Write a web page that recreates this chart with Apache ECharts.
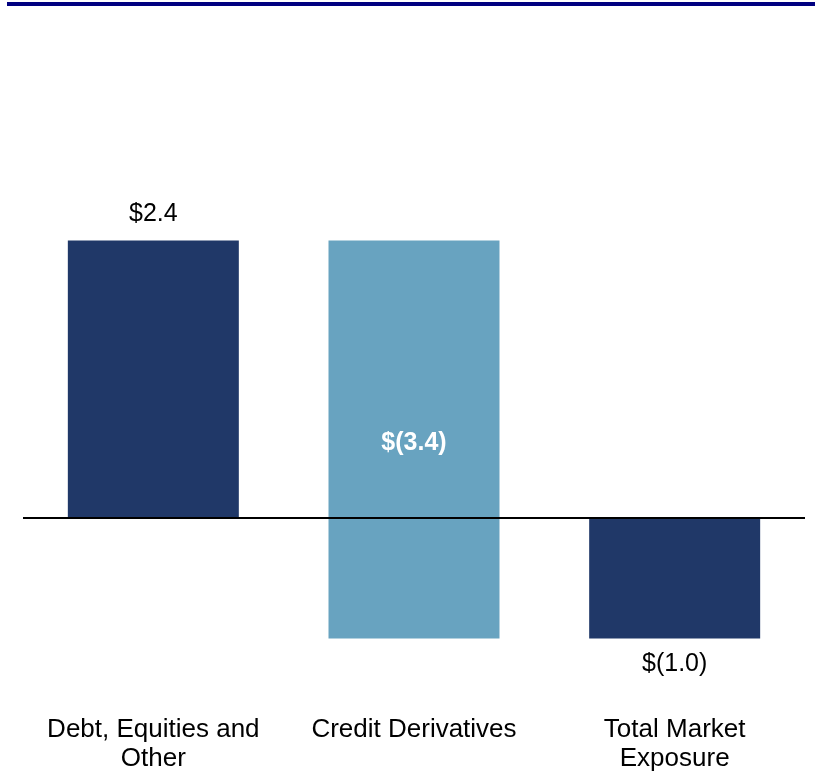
<!DOCTYPE html>
<html>
<head>
<meta charset="utf-8">
<title>Market Exposure</title>
<script src="https://cdn.jsdelivr.net/npm/echarts@6/dist/echarts.min.js"></script>
<style>
  html, body { margin: 0; padding: 0; background: #fff; }
  #chart { width: 815px; height: 773px; }
</style>
</head>
<body>
<div id="chart"></div>
<script>
// 瀑布图数据
var categories = ["Debt, Equities and\nOther", "Credit Derivatives", "Total Market\nExposure"];
var values = [2.38, -3.42, -1.04];
var isTotal = [false, false, true];

// 样式
var barColors = ["#203868", "#68A3C0", "#203868"];
var labelPlace = ["top", "inside", "bottom"];
var fontFamily = "'Liberation Sans', Arial, sans-serif";

function fmt(v) {
  var s = Math.abs(v).toFixed(1);
  return v < 0 ? "$(" + s + ")" : "$" + s;
}

// 计算每根柱子的起止
var running = 0;
var rows = values.map(function (v, i) {
  var start, end;
  if (isTotal[i]) {
    start = 0;
    end = v;
  } else {
    start = running;
    end = running + v;
  }
  running = end;
  return [i, start, end, v];
});

var chart = echarts.init(document.getElementById("chart"));

var option = {
  animation: false,
  grid: { top: 52, bottom: 80.25, left: 23, right: 10 },
  graphic: [
    { type: "rect", left: 7, top: 2, shape: { width: 808, height: 4 }, style: { fill: "#000080" } }
  ],
  xAxis: {
    type: "category",
    data: categories,
    position: "bottom",
    axisLine: { show: false },
    axisTick: { show: false },
    axisLabel: {
      color: "#000",
      fontSize: 26,
      lineHeight: 29,
      fontFamily: fontFamily,
      margin: 23,
      interval: 0
    }
  },
  yAxis: {
    type: "value",
    min: -1.5,
    max: 4,
    show: false,
    splitLine: { show: false }
  },
  series: [
    {
      type: "custom",
      data: rows,
      z: 1,
      // 零线
      markLine: {
        silent: true,
        symbol: "none",
        label: { show: false },
        lineStyle: { color: "#000", width: 2, type: "solid" },
        data: [{ yAxis: 0 }]
      },
      renderItem: function (params, api) {
        var i = params.dataIndex;
        var p1 = api.coord([api.value(0), api.value(1)]);
        var p2 = api.coord([api.value(0), api.value(2)]);
        var w = api.size([1, 0])[0] * 0.656;
        var top = Math.min(p1[1], p2[1]);
        var bottom = Math.max(p1[1], p2[1]);
        var cx = p1[0];
        var place = labelPlace[i];
        var ty, fill = "#000", weight = "normal";
        if (place === "top") {
          ty = top - 26;
        } else if (place === "bottom") {
          ty = bottom + 26;
        } else {
          ty = (top + bottom) / 2 + 4;
          fill = "#fff";
          weight = "bold";
        }
        return {
          type: "group",
          children: [
            {
              type: "rect",
              shape: { x: cx - w / 2, y: top, width: w, height: bottom - top },
              style: { fill: barColors[i] }
            },
            {
              type: "text",
              x: cx,
              y: ty,
              style: {
                text: fmt(api.value(3)),
                fill: fill,
                fontSize: 25,
                fontWeight: weight,
                fontFamily: fontFamily,
                align: "center",
                verticalAlign: "middle"
              }
            }
          ]
        };
      }
    }
  ]
};

chart.setOption(option);
</script>
</body>
</html>
